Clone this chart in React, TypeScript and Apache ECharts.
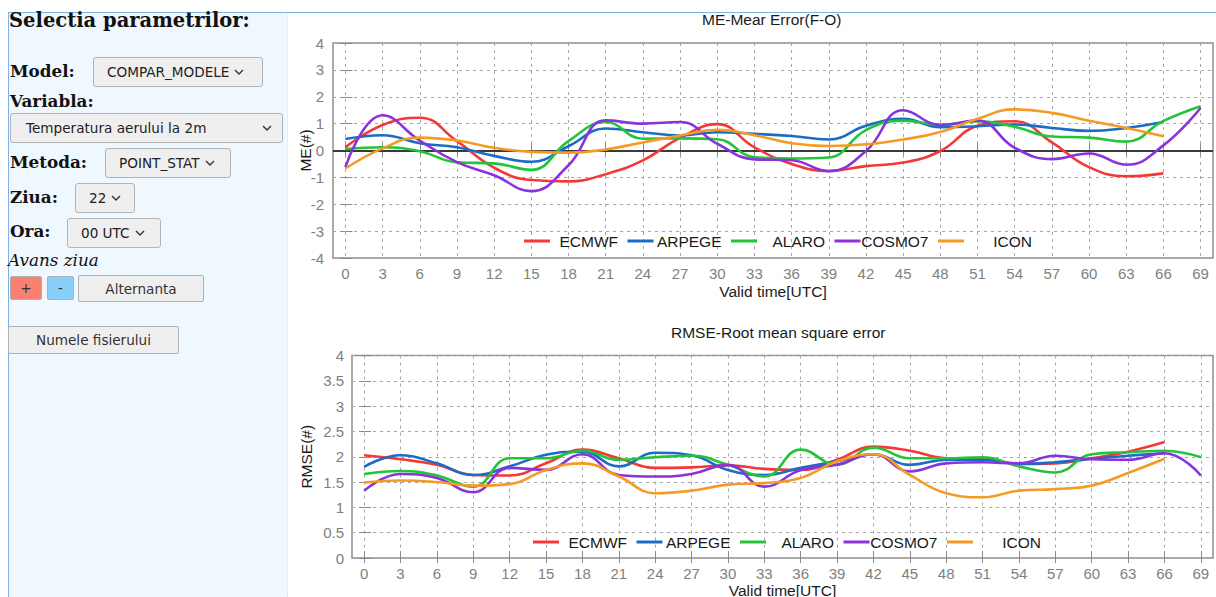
import React, { useEffect, useRef } from "react";
import * as echarts from "echarts";

// ---------- data ----------
const hours = [0, 3, 6, 9, 12, 15, 18, 21, 24, 27, 30, 33, 36, 39, 42, 45, 48, 51, 54, 57, 60, 63, 66, 69];
const modelNames = ["ECMWF", "ARPEGE", "ALARO", "COSMO7", "ICON"];
const modelColors = ["#f43838", "#1b6cc4", "#22c43a", "#8a33dd", "#f59b25"];

// ME - Mean Error (F-O)
const meECMWF = [0.12, 0.95, 1.22, 0.35, -0.64, -1.1, -1.15, -0.88, -0.37, 0.47, 0.98, 0.12, -0.5, -0.76, -0.58, -0.45, -0.02, 0.92, 1.09, 0.3, -0.62, -0.96, -0.85];
const meARPEGE = [0.43, 0.57, 0.27, 0.12, -0.2, -0.42, 0.16, 0.82, 0.68, 0.56, 0.68, 0.62, 0.54, 0.41, 0.92, 1.18, 0.87, 0.9, 0.97, 0.84, 0.73, 0.84, 1.06];
const meALARO = [0.05, 0.12, -0.03, -0.44, -0.48, -0.72, 0.35, 1.06, 0.44, 0.45, 0.42, -0.25, -0.3, -0.26, 0.76, 1.11, 0.96, 1.09, 0.88, 0.52, 0.48, 0.33, 1.1, 1.65];
const meCOSMO7 = [-0.62, 1.31, 0.37, -0.43, -0.92, -1.51, -0.55, 1.12, 1.0, 1.06, 0.25, -0.33, -0.36, -0.77, -0.02, 1.5, 0.95, 1.11, 0.1, -0.32, -0.11, -0.53, 0.19, 1.58];
const meICON = [-0.67, 0.08, 0.48, 0.37, 0.1, -0.05, -0.08, 0.04, 0.3, 0.56, 0.77, 0.57, 0.27, 0.17, 0.23, 0.41, 0.69, 1.18, 1.53, 1.4, 1.11, 0.84, 0.53];

// RMSE - Root mean square error
const rmseECMWF = [2.03, 1.95, 1.84, 1.64, 1.63, 1.87, 2.14, 1.97, 1.78, 1.79, 1.83, 1.76, 1.74, 1.94, 2.2, 2.12, 1.97, 1.96, 1.86, 1.87, 1.97, 2.1, 2.29];
const rmseARPEGE = [1.8, 2.03, 1.87, 1.64, 1.81, 2.04, 2.1, 1.81, 2.08, 2.03, 1.74, 1.64, 1.78, 1.91, 2.05, 1.84, 1.94, 1.94, 1.86, 1.89, 1.96, 2.02, 2.07];
const rmseALARO = [1.66, 1.72, 1.63, 1.41, 1.97, 1.97, 2.12, 1.94, 1.99, 2.02, 1.84, 1.61, 2.14, 1.84, 2.18, 1.97, 1.97, 1.99, 1.81, 1.69, 2.05, 2.09, 2.12, 1.99];
const rmseCOSMO7 = [1.33, 1.66, 1.58, 1.3, 1.78, 1.74, 2.05, 1.64, 1.61, 1.66, 1.84, 1.41, 1.74, 1.84, 2.05, 1.71, 1.87, 1.89, 1.87, 2.02, 1.95, 1.94, 2.07, 1.63];
const rmseICON = [1.49, 1.53, 1.5, 1.43, 1.46, 1.74, 1.87, 1.61, 1.28, 1.33, 1.45, 1.48, 1.58, 1.91, 2.05, 1.64, 1.28, 1.2, 1.33, 1.36, 1.43, 1.68, 1.96];

const meSeries = [meECMWF, meARPEGE, meALARO, meCOSMO7, meICON];
const rmseSeries = [rmseECMWF, rmseARPEGE, rmseALARO, rmseCOSMO7, rmseICON];

const chartTitles = ["ME-Mear Error(F-O)", "RMSE-Root mean square error"];
const yNames = ["ME(#)", "RMSE(#)"];
const xName = "Valid time[UTC]";

// ---------- styles ----------
const FONT = "'Liberation Sans', Arial, sans-serif";
const TICK_GRAY = "#808080";
const TEXT = "#1a1a1a";
const CHART_LEFT = 288;

const pairs = (vals: number[]) => vals.map((v, i) => [hours[i], v]);

function bottomX(gridIndex: number, nameGap: number) {
  return {
    type: "value", gridIndex, min: -1, max: 70, position: "bottom",
    axisLine: { show: false },
    axisTick: { show: true, inside: true, length: 7, customValues: hours, lineStyle: { color: "#8a8a8a", width: 1 } },
    axisLabel: { customValues: hours, color: TICK_GRAY, fontSize: 15, margin: 8, fontFamily: FONT },
    splitLine: { show: true, lineStyle: { color: "#a6a6a6", type: [3, 4], width: 1 } },
    name: xName, nameLocation: "middle", nameGap, nameMoveOverlap: false,
    nameTextStyle: { color: TEXT, fontSize: 15.5, fontFamily: FONT },
  };
}
function topX(gridIndex: number) {
  return {
    type: "value", gridIndex, min: -1, max: 70, position: "top",
    axisLine: { show: false },
    axisTick: { show: true, inside: true, length: 5, customValues: hours, lineStyle: { color: "#8a8a8a", width: 1 } },
    axisLabel: { show: false }, splitLine: { show: false },
  };
}
function leftY(gridIndex: number, min: number, max: number, interval: number, name: string, nameGap: number, margin: number) {
  return {
    type: "value", gridIndex, min, max, interval, position: "left",
    axisLine: { show: false },
    axisTick: { show: true, inside: true, length: 7, lineStyle: { color: "#8a8a8a", width: 1 } },
    axisLabel: { color: TICK_GRAY, fontSize: 15, margin, fontFamily: FONT },
    splitLine: { show: true, lineStyle: { color: "#a6a6a6", type: [3, 4], width: 1 } },
    name, nameLocation: "middle", nameGap, nameMoveOverlap: false,
    nameTextStyle: { color: TEXT, fontSize: 15.5, fontFamily: FONT },
  };
}
function rightY(gridIndex: number, min: number, max: number, interval: number) {
  return {
    type: "value", gridIndex, min, max, interval, position: "right",
    axisLine: { show: false },
    axisTick: { show: true, inside: true, length: 5, lineStyle: { color: "#8a8a8a", width: 1 } },
    axisLabel: { show: false }, splitLine: { show: false },
  };
}
function legend(left: number, top: number) {
  return {
    data: modelNames, left, top, orient: "horizontal", padding: 0,
    itemWidth: 26, itemHeight: 3, itemGap: 9.5, icon: "rect", selectedMode: false,
    formatter: (n: string) => `{n|${n}}`,
    textStyle: { rich: { n: { width: 63, align: "right", fontSize: 15.5, color: TEXT, fontFamily: FONT } } },
  };
}

function buildOption() {
  const series: any[] = [];
  modelNames.forEach((name, i) => {
    series.push({
      name, type: "line", xAxisIndex: 0, yAxisIndex: 0, data: pairs(meSeries[i]),
      smooth: 0.45, symbol: "none", showSymbol: false, z: 3,
      lineStyle: { width: 2.6, color: modelColors[i] }, itemStyle: { color: modelColors[i] },
      ...(i === 0
        ? { markLine: { z: 1, silent: true, symbol: "none", label: { show: false }, lineStyle: { color: "#3a3a3a", width: 2, type: "solid" }, data: [{ yAxis: 0 }] } }
        : {}),
    });
  });
  modelNames.forEach((name, i) => {
    series.push({
      name, type: "line", xAxisIndex: 2, yAxisIndex: 2, data: pairs(rmseSeries[i]),
      smooth: 0.45, symbol: "none", showSymbol: false, z: 3,
      lineStyle: { width: 2.6, color: modelColors[i] }, itemStyle: { color: modelColors[i] },
    });
  });
  const gridBase = { show: true, borderColor: "#8f8f8f", borderWidth: 1.5, backgroundColor: "transparent", containLabel: false, outerBoundsMode: "none" };
  return {
    animation: false,
    backgroundColor: "transparent",
    title: [
      { text: chartTitles[0], left: 414, top: 11, padding: 0, textStyle: { fontSize: 15.5, fontWeight: "normal", color: TEXT, fontFamily: FONT } },
      { text: chartTitles[1], left: 383, top: 324, padding: 0, textStyle: { fontSize: 15.5, fontWeight: "normal", color: TEXT, fontFamily: FONT } },
    ],
    legend: [legend(236, 233), legend(245, 534)],
    grid: [
      { ...gridBase, left: 45, top: 43, width: 880, height: 215 },
      { ...gridBase, left: 64, top: 355.5, width: 861, height: 202.5 },
    ],
    xAxis: [bottomX(0, 25), topX(0), bottomX(1, 24), topX(1)],
    yAxis: [
      leftY(0, -4, 4, 1, yNames[0], 20, 9),
      rightY(0, -4, 4, 1),
      leftY(1, 0, 4, 0.5, yNames[1], 38, 8),
      rightY(1, 0, 4, 0.5),
    ],
    series,
  };
}

// ---------- left panel ----------
const SERIF = "'DejaVu Serif', serif";
const SANS = "'DejaVu Sans', sans-serif";

function Chevron() {
  return (
    <svg width="10" height="6" viewBox="0 0 10 6" style={{ display: "block" }}>
      <polyline points="1,1 5,5 9,1" fill="none" stroke="#333" strokeWidth="1.4" />
    </svg>
  );
}

function Label(props: { text: string; x: number; baseline: number; size?: number; bold?: boolean; italic?: boolean }) {
  const size = props.size ?? 16.8;
  return (
    <div
      style={{
        position: "absolute", left: props.x, top: props.baseline - 0.846 * size,
        fontFamily: SERIF, fontSize: size, lineHeight: 1, whiteSpace: "nowrap", color: "#111",
        fontWeight: props.bold === false ? "normal" : "bold", fontStyle: props.italic ? "italic" : "normal",
      }}
    >
      {props.text}
    </div>
  );
}

function SelectBox(props: { text: string; x: number; y: number; w: number; spread?: boolean }) {
  return (
    <div
      style={{
        position: "absolute", left: props.x, top: props.y, width: props.w, height: 30, boxSizing: "border-box",
        background: "#efefef", border: "1px solid #b4b4b4", borderRadius: 3,
        display: "flex", alignItems: "center", justifyContent: props.spread ? "space-between" : "flex-start",
        paddingLeft: props.spread ? 15 : 13, paddingRight: 10, gap: 5,
        fontFamily: SANS, fontSize: 13.6, color: "#222", whiteSpace: "nowrap",
      }}
    >
      <span>{props.text}</span>
      <Chevron />
    </div>
  );
}

function Btn(props: { text: string; x: number; y: number; w: number; h: number; bg?: string }) {
  return (
    <div
      style={{
        position: "absolute", left: props.x, top: props.y, width: props.w, height: props.h, boxSizing: "border-box",
        background: props.bg ?? "#efefef", border: "1px solid #b0b0b0", borderRadius: 2,
        display: "flex", alignItems: "center", justifyContent: "center",
        fontFamily: SANS, fontSize: 13.6, color: "#333", whiteSpace: "nowrap",
      }}
    >
      {props.text}
    </div>
  );
}

export default function App() {
  const ref = useRef<HTMLDivElement>(null);
  useEffect(() => {
    if (!ref.current) return;
    const chart = echarts.init(ref.current, undefined, { renderer: "svg" });
    chart.setOption(buildOption() as any);
    return () => chart.dispose();
  }, []);

  return (
    <div style={{ position: "fixed", left: 0, top: 0, width: 1216, height: 597, overflow: "hidden", background: "#fff" }}>
      {/* top border line */}
      <div style={{ position: "absolute", left: 8, top: 12, width: 1208, height: 1, background: "#7fb0e8" }} />
      {/* left panel */}
      <div
        style={{
          position: "absolute", left: 8, top: 13, width: 280, height: 584, boxSizing: "border-box",
          background: "#eff7ff", borderLeft: "1px solid #7fb0e8", borderRight: "1px dotted #dfe5ec",
        }}
      />
      <Label text="Selectia parametrilor:" x={9} baseline={27} size={19.5} />
      <Label text="Model:" x={10} baseline={77} />
      <SelectBox text="COMPAR_MODELE" x={93} y={57} w={170} />
      <Label text="Variabla:" x={10} baseline={107} />
      <SelectBox text="Temperatura aerului la 2m" x={10} y={113} w={273} spread />
      <Label text="Metoda:" x={10} baseline={168} />
      <SelectBox text="POINT_STAT" x={105} y={148} w={126} />
      <Label text="Ziua:" x={10} baseline={203} />
      <SelectBox text="22" x={75} y={183} w={60} />
      <Label text="Ora:" x={10} baseline={237} />
      <SelectBox text="00 UTC" x={67} y={218} w={94} />
      <Label text="Avans ziua" x={8} baseline={266} bold={false} italic />
      <Btn text="+" x={10} y={276} w={32} h={24} bg="#fa8072" />
      <Btn text="-" x={47} y={276} w={27} h={24} bg="#87cefa" />
      <Btn text="Alternanta" x={78} y={275} w={126} h={27} />
      <Btn text="Numele fisierului" x={8} y={326} w={171} h={28} />
      {/* charts */}
      <div ref={ref} style={{ position: "absolute", left: CHART_LEFT, top: 0, width: 928, height: 597 }} />
    </div>
  );
}
